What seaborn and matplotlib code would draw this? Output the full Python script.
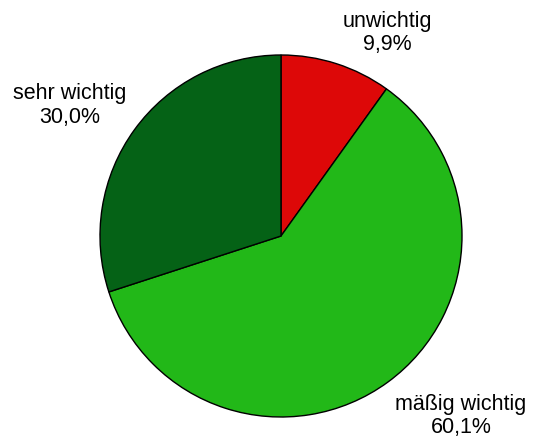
import matplotlib
matplotlib.use("Agg")
import matplotlib.pyplot as plt
import seaborn as sns

# data
categories = ["unwichtig", "mäßig wichtig", "sehr wichtig"]
shares = [9.9, 60.1, 30.0]
colors = ["#DD0808", "#22B818", "#056216"]

sns.set_theme(style="white")
plt.rcParams["font.family"] = ["Liberation Sans", "DejaVu Sans"]

fig = plt.figure(figsize=(5.34, 4.42), dpi=100)
fig.set_facecolor("white")
# pie center at (281, 236) px, radius 181 px
ax = fig.add_axes([100 / 534, 25 / 442, 362 / 534, 362 / 442])
ax.pie(shares, colors=colors, startangle=90, counterclock=False, radius=1,
       wedgeprops=dict(edgecolor="black", linewidth=1))
ax.set_xlim(-1, 1)
ax.set_ylim(-1, 1)
ax.set_aspect("equal")
ax.axis("off")

# label placement (data units relative to pie center)
label_pos = [(0.59, 1.122), (0.994, -0.994), (-1.166, 0.722)]
for name, val, (lx, ly) in zip(categories, shares, label_pos):
    txt = f"{name}\n{val:.1f}%".replace(".", ",")
    ax.text(lx, ly, txt, ha="center", va="center", fontsize=15.5,
            linespacing=1.15, color="black", clip_on=False)

fig.savefig("out.png", dpi=100, facecolor="white")
